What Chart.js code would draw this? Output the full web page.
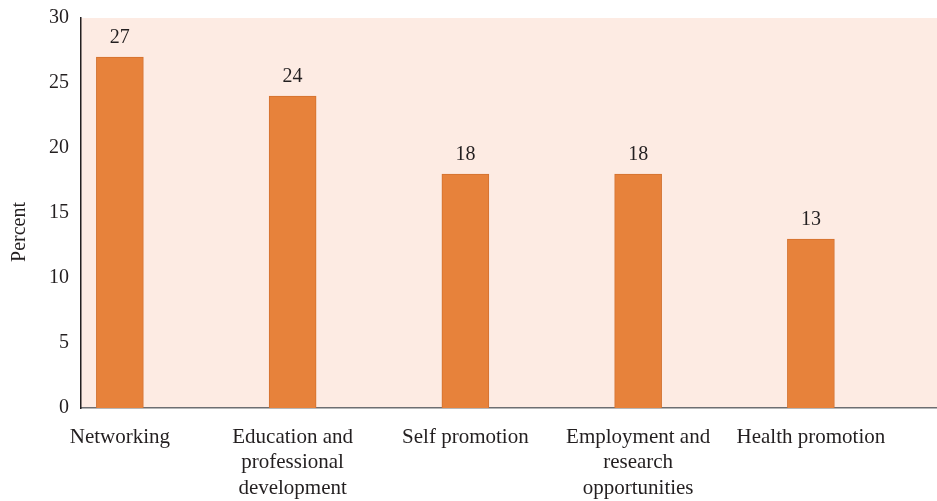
<!DOCTYPE html>
<html>
<head>
<meta charset="utf-8">
<script src="https://cdn.jsdelivr.net/npm/chart.js@4"></script>
<style>
  html, body { margin: 0; padding: 0; background: #ffffff; }
  #wrap { width: 937px; height: 501px; }
</style>
</head>
<body>
<div id="wrap"><canvas id="myChart"></canvas></div>
<script>
// 데이터
const categories = ["Networking", "Education and professional development", "Self promotion", "Employment and research opportunities", "Health promotion"];
const tickLabels = [["Networking"], ["Education and", "professional", "development"], ["Self promotion"], ["Employment and", "research", "opportunities"], ["Health promotion"]];
const values = [27, 24, 18, 18, 13];
const yTicks = [0, 5, 10, 15, 20, 25, 30];

const FONT = "'Liberation Serif', 'DejaVu Serif', serif";
const TEXT = "#231f20";

// 배경, 값 라벨, 축 제목
const plotBg = {
    id: "plotBg",
    beforeDraw(chart) {
        const { ctx, chartArea: a } = chart;
        ctx.save();
        ctx.fillStyle = "#fdebe3";
        ctx.fillRect(a.left, a.top, a.right - a.left, a.bottom - a.top);
        ctx.restore();
    },
    afterDatasetsDraw(chart) {
        const ctx = chart.ctx;
        const meta = chart.getDatasetMeta(0);
        ctx.save();
        ctx.font = "20px " + FONT;
        ctx.fillStyle = TEXT;
        ctx.textAlign = "center";
        ctx.textBaseline = "middle";
        meta.data.forEach((bar, i) => {
            ctx.fillText(String(values[i]), bar.x, bar.y - 19);
        });
        // y축 제목
        ctx.translate(20, 232);
        ctx.rotate(-Math.PI / 2);
        ctx.fillText("Percent", 0, 0);
        ctx.restore();
    }
};

let chart;

function initChart() {
    const ctx = document.getElementById("myChart").getContext("2d");
    chart = new Chart(ctx, {
        type: "bar",
        data: {
            datasets: [{
                label: "Percent",
                data: categories.map((c, i) => ({ x: i, y: values[i] })),
                backgroundColor: "#e7823b",
                borderColor: "#d3712f",
                borderWidth: 1,
                barThickness: 47
            }]
        },
        options: {
            responsive: true,
            maintainAspectRatio: false,
            animation: false,
            layout: { padding: { top: 18, right: 0, left: 0, bottom: 0 } },
            plugins: { legend: { display: false }, tooltip: { enabled: false } },
            scales: {
                x: {
                    type: "linear",
                    offset: false,
                    min: -0.225,
                    max: 4.73,
                    afterBuildTicks: (s) => { s.ticks = categories.map((c, i) => ({ value: i })); },
                    afterFit: (s) => { s.height = 93; s.paddingLeft = 0; s.paddingRight = 0; },
                    grid: { display: false },
                    border: { display: true, color: "#6d6e71", width: 1.5 },
                    ticks: {
                        autoSkip: false,
                        maxRotation: 0,
                        minRotation: 0,
                        padding: 9,
                        color: TEXT,
                        font: { family: FONT, size: 21, lineHeight: 1.2 },
                        callback: (v) => tickLabels[v] || ""
                    }
                },
                y: {
                    min: 0,
                    max: 30,
                    afterBuildTicks: (s) => { s.ticks = yTicks.map(v => ({ value: v })); },
                    afterFit: (s) => { s.width = 81; s.paddingTop = 0; s.paddingBottom = 0; },
                    grid: { display: false },
                    border: { display: true, color: "#231f20", width: 1.5 },
                    ticks: {
                        padding: 4,
                        color: TEXT,
                        font: { family: FONT, size: 20 }
                    }
                }
            }
        },
        plugins: [plotBg]
    });
}

window.onload = function () {
    initChart();
};
</script>
</body>
</html>
